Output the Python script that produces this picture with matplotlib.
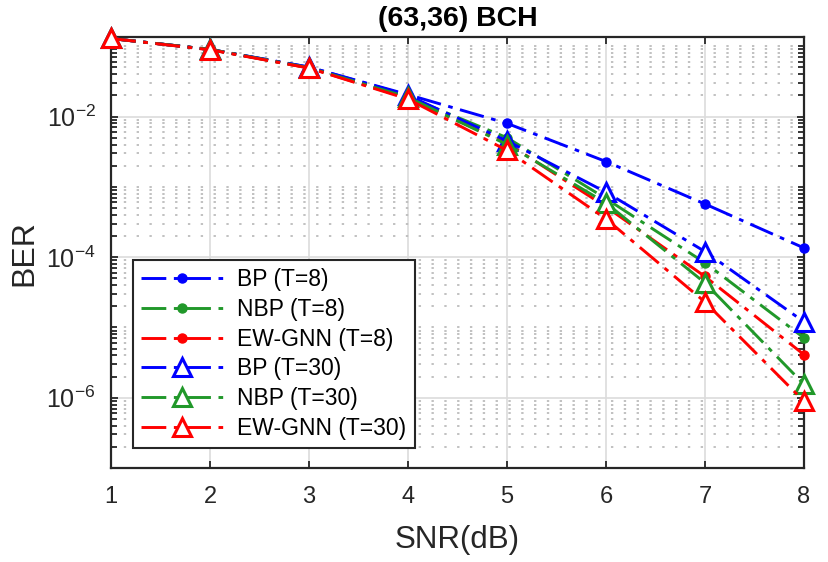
"""
BER vs SNR for the (63,36) BCH code, BP / NBP / EW-GNN decoders
"""
import matplotlib
matplotlib.use("Agg")
import matplotlib.pyplot as plt
from matplotlib.ticker import LogLocator, FixedLocator, NullFormatter

plt.rcParams['font.family'] = ['Liberation Sans', 'DejaVu Sans']
plt.rcParams['mathtext.fontset'] = 'custom'
plt.rcParams['mathtext.rm'] = 'Liberation Sans'
plt.rcParams['mathtext.it'] = 'Liberation Sans'

# data
snr = [1, 2, 3, 4, 5, 6, 7, 8]
bp_t8 = [0.129, 0.090, 0.0505, 0.0205, 0.0080, 0.00229, 0.00057, 1.35e-4]
nbp_t8 = [0.129, 0.090, 0.0496, 0.0190, 0.0050, 0.00068, 8.3e-5, 7.1e-6]
ew_t8 = [0.129, 0.090, 0.0490, 0.0182, 0.0042, 0.00052, 5.3e-5, 4.1e-6]
bp_t30 = [0.129, 0.090, 0.0505, 0.0200, 0.0045, 0.00084, 1.2e-4, 1.2e-5]
nbp_t30 = [0.129, 0.090, 0.0496, 0.0188, 0.0040, 0.00059, 4.3e-5, 1.55e-6]
ew_t30 = [0.129, 0.089, 0.0490, 0.0177, 0.0033, 0.00035, 2.3e-5, 8.9e-7]

labels = ['BP (T=8)', 'NBP (T=8)', 'EW-GNN (T=8)',
          'BP (T=30)', 'NBP (T=30)', 'EW-GNN (T=30)']
series = [bp_t8, nbp_t8, ew_t8, bp_t30, nbp_t30, ew_t30]

blue = '#0000ff'
green = '#21982a'
red = '#ff0000'
colors = [blue, green, red, blue, green, red]

# matlab-like '-.' pattern (long dash, dot)
dashdot = (0, (8.5, 2.6, 1.6, 2.6))

fig = plt.figure(figsize=(8.29, 5.62), dpi=100)
ax = fig.add_axes([0.1339, 0.1673, 0.8359, 0.7663])

for i, (vals, lab, col) in enumerate(zip(series, labels, colors)):
    if i < 3:
        ax.plot(snr, vals, ls=dashdot, color=col, lw=2.1, marker='o', ms=6.5,
                mfc=col, mec=col, label=lab, clip_on=False, zorder=3 + i)
    else:
        ax.plot(snr, vals, ls=dashdot, color=col, lw=2.1, marker='^', ms=12.5,
                mfc='white', mec=col, mew=2.2, label=lab, clip_on=False,
                zorder=3 + i)

ax.set_yscale('log')
ax.set_xlim(1, 8)
ax.set_ylim(1e-7, 0.134)
ax.set_xticks(snr)

ax.yaxis.set_major_locator(FixedLocator([1e-6, 1e-4, 1e-2]))
ax.yaxis.set_minor_locator(LogLocator(base=10, subs=range(1, 10), numticks=20))
ax.yaxis.set_minor_formatter(NullFormatter())
ax.set_yticklabels([r'$\mathregular{10^{-6}}$', r'$\mathregular{10^{-4}}$',
                    r'$\mathregular{10^{-2}}$'])

ax.grid(True, which='major', color='#dcdcdc', lw=1.2, ls='-')
ax.grid(True, which='minor', axis='y', color='#bcbcbc', lw=1.3, ls=(0, (1.3, 5.8)))
ax.set_axisbelow(True)

for s in ax.spines.values():
    s.set_color('#262626')
    s.set_linewidth(1.6)
ax.tick_params(which='both', direction='in', top=True, right=True,
               colors='#262626', width=1.3)
ax.tick_params(which='major', length=5, labelsize=17)
ax.tick_params(which='minor', length=4)
ax.tick_params(axis='x', pad=13)
ax.tick_params(axis='y', pad=11, labelsize=18)

ax.set_xlabel('SNR(dB)', fontsize=22.5, color='#262626', labelpad=12)
ax.set_ylabel('BER', fontsize=23, color='#262626', labelpad=5)
ax.set_title('(63,36) BCH', fontsize=20.5, fontweight='bold', pad=8)

leg = ax.legend(loc='lower left', bbox_to_anchor=(0.032, 0.046),
                borderaxespad=0, fontsize=16.5, handlelength=3.6,
                handletextpad=0.6, labelspacing=0.3, borderpad=0.35,
                fancybox=False, framealpha=1, edgecolor='#262626')
leg.get_frame().set_linewidth(1.5)

fig.savefig('out.png', dpi=100)
